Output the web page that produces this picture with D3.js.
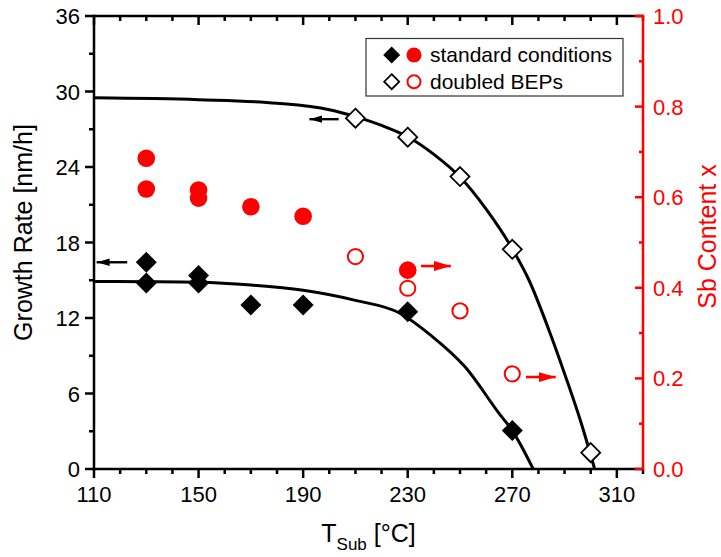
<!DOCTYPE html>
<html>
<head>
<meta charset="utf-8">
<script src="https://cdn.jsdelivr.net/npm/d3@7"></script>
<style>
  html, body { margin: 0; padding: 0; background: #fff; }
  svg { display: block; font-family: "Liberation Sans", Arial, sans-serif; }
</style>
</head>
<body>
<svg id="chart" width="721" height="557"></svg>
<script>
// Growth rate (left axis, nm/h) and Sb content (right axis) versus substrate temperature

// standard conditions: growth rate
const stdT = [130, 130, 150, 150, 170, 190, 230, 270];
const stdRate = [16.43, 14.78, 15.37, 14.78, 13.04, 13.04, 12.5, 3.05];
// doubled BEPs: growth rate
const dblT = [210, 230, 250, 270, 300];
const dblRate = [27.88, 26.37, 23.24, 17.46, 1.3];
// standard conditions: Sb content
const stdSbT = [130, 130, 150, 150, 170, 190, 230];
const stdSb = [0.686, 0.618, 0.616, 0.598, 0.579, 0.558, 0.439];
// doubled BEPs: Sb content
const dblSbT = [210, 230, 250, 270];
const dblSb = [0.469, 0.399, 0.349, 0.21];

// fitted growth-rate curves
const fitStdT = [110, 130, 150, 170, 190, 210, 227, 239, 252, 265, 270, 278];
const fitStdRate = [14.9, 14.88, 14.84, 14.62, 14.2, 13.4, 12.38, 10.6, 8.1, 4.4, 3.05, 0];
const fitDblT = [110, 150, 180, 200, 210, 220, 230, 240, 250, 260, 270, 276.4, 284, 290.4, 296.8, 301.5];
const fitDblRate = [29.5, 29.35, 29.07, 28.55, 28.0, 27.3, 26.4, 25.0, 23.2, 20.65, 17.5, 15.0, 11.05, 7.34, 3.36, 0];

// axis ticks
const xMajor = [110, 150, 190, 230, 270, 310];
const xMinor = [120, 130, 140, 160, 170, 180, 200, 210, 220, 240, 250, 260, 280, 290, 300, 320];
const yMajor = [0, 6, 12, 18, 24, 30, 36];
const yMinor = [3, 9, 15, 21, 27, 33];
const rMajor = [0, 0.2, 0.4, 0.6, 0.8, 1.0];
const rMinor = [0.1, 0.3, 0.5, 0.7, 0.9];

// direction arrows: [x1, x2, y] in data units, head at x2
const rateArrows = [[122.7, 111.0, 16.43], [203.6, 192.4, 27.8]];
const sbArrows = [[235.1, 246.5, 0.448], [275.2, 286.6, 0.203]];

const legendLabels = ["standard conditions", "doubled BEPs"];

const RED = "#ff0000";
const L = 94, R = 643, T = 16, B = 469;

const svg = d3.select("#chart");
const x = d3.scaleLinear().domain([110, 320]).range([L, R]);
const y = d3.scaleLinear().domain([0, 36]).range([B, T]);
const yr = d3.scaleLinear().domain([0, 1]).range([B, T]);

const defs = svg.append("defs");
defs.append("clipPath").attr("id", "plot-clip")
  .append("rect").attr("x", L).attr("y", T).attr("width", R - L).attr("height", B - T);
function arrowMarker(id, color, len, half) {
  defs.append("marker").attr("id", id)
    .attr("viewBox", `0 ${-half} ${len} ${2 * half}`)
    .attr("refX", len).attr("refY", 0)
    .attr("markerWidth", len).attr("markerHeight", 2 * half)
    .attr("markerUnits", "userSpaceOnUse")
    .attr("orient", "auto")
    .append("path").attr("d", `M0,${-half}L${len},0L0,${half}Z`).attr("fill", color);
}
arrowMarker("head-black", "#000", 13, 3.8);
arrowMarker("head-red", RED, 17, 5);

// fitted curves
const line = d3.line().x(d => x(d[0])).y(d => y(d[1])).curve(d3.curveMonotoneX);
const curves = svg.append("g").attr("clip-path", "url(#plot-clip)");
curves.append("path").datum(d3.zip(fitStdT, fitStdRate)).attr("d", line)
  .attr("fill", "none").attr("stroke", "#000").attr("stroke-width", 3);
curves.append("path").datum(d3.zip(fitDblT, fitDblRate)).attr("d", line)
  .attr("fill", "none").attr("stroke", "#000").attr("stroke-width", 3);

// arrows
svg.append("g").selectAll("line").data(rateArrows).join("line")
  .attr("x1", d => x(d[0])).attr("x2", d => x(d[1]))
  .attr("y1", d => y(d[2])).attr("y2", d => y(d[2]))
  .attr("stroke", "#000").attr("stroke-width", 2.4).attr("marker-end", "url(#head-black)");
svg.append("g").selectAll("line").data(sbArrows).join("line")
  .attr("x1", d => x(d[0])).attr("x2", d => x(d[1]))
  .attr("y1", d => yr(d[2])).attr("y2", d => yr(d[2]))
  .attr("stroke", RED).attr("stroke-width", 2.6).attr("marker-end", "url(#head-red)");

// markers
const diamondPath = s => `M0,${-s}L${s},0L0,${s}L${-s},0Z`;
svg.append("g").selectAll("circle.sb").data(d3.zip(stdSbT, stdSb)).join("circle")
  .attr("cx", d => x(d[0])).attr("cy", d => yr(d[1])).attr("r", 8.8).attr("fill", RED);
svg.append("g").selectAll("circle").data(d3.zip(dblSbT, dblSb)).join("circle")
  .attr("cx", d => x(d[0])).attr("cy", d => yr(d[1])).attr("r", 7.6)
  .attr("fill", "none").attr("stroke", RED).attr("stroke-width", 2);
svg.append("g").selectAll("path").data(d3.zip(stdT, stdRate)).join("path")
  .attr("transform", d => `translate(${x(d[0])},${y(d[1])})`)
  .attr("d", diamondPath(10.5)).attr("fill", "#000");
svg.append("g").selectAll("path").data(d3.zip(dblT, dblRate)).join("path")
  .attr("transform", d => `translate(${x(d[0])},${y(d[1])})`)
  .attr("d", diamondPath(9.5)).attr("fill", "#fff").attr("stroke", "#000").attr("stroke-width", 1.8);

// axes
const ax = svg.append("g");
const SW = 2.5;
function tick(g, x1, y1, x2, y2, color) {
  g.append("line").attr("x1", x1).attr("y1", y1).attr("x2", x2).attr("y2", y2)
    .attr("stroke", color).attr("stroke-width", SW);
}
// bottom & top
ax.append("line").attr("x1", L).attr("x2", R).attr("y1", B).attr("y2", B).attr("stroke", "#000").attr("stroke-width", SW);
ax.append("line").attr("x1", L).attr("x2", R).attr("y1", T).attr("y2", T).attr("stroke", "#000").attr("stroke-width", SW);
xMajor.forEach(v => { tick(ax, x(v), B, x(v), B + 9, "#000"); tick(ax, x(v), T, x(v), T + 9, "#000"); });
xMinor.forEach(v => { tick(ax, x(v), B, x(v), B + 5, "#000"); tick(ax, x(v), T, x(v), T + 5, "#000"); });
ax.selectAll("text.xl").data(xMajor).join("text")
  .attr("x", d => x(d)).attr("y", B + 33).attr("text-anchor", "middle")
  .attr("font-size", 22).attr("fill", "#000").text(d => d);
// left
ax.append("line").attr("x1", L).attr("x2", L).attr("y1", T - 1.25).attr("y2", B + 1.25).attr("stroke", "#000").attr("stroke-width", SW);
yMajor.forEach(v => tick(ax, L - 9, y(v), L, y(v), "#000"));
yMinor.forEach(v => tick(ax, L - 5, y(v), L, y(v), "#000"));
ax.selectAll("text.yl").data(yMajor).join("text")
  .attr("x", L - 14).attr("y", d => y(d) + 8).attr("text-anchor", "end")
  .attr("font-size", 22).attr("fill", "#000").text(d => d);
// right (red)
ax.append("line").attr("x1", R).attr("x2", R).attr("y1", T - 1.25).attr("y2", B + 1.25).attr("stroke", RED).attr("stroke-width", SW);
rMajor.forEach(v => tick(ax, R - 8, yr(v), R, yr(v), RED));
rMinor.forEach(v => tick(ax, R - 4, yr(v), R, yr(v), RED));
ax.selectAll("text.rl").data(rMajor).join("text")
  .attr("x", R + 10).attr("y", d => yr(d) + 8).attr("text-anchor", "start")
  .attr("font-size", 22).attr("fill", RED).text(d => d3.format(".1f")(d));

// axis titles
svg.append("text").attr("transform", `translate(32,${(T + B) / 2 - 10}) rotate(-90)`)
  .attr("text-anchor", "middle").attr("font-size", 25).attr("fill", "#000")
  .text("Growth Rate [nm/h]");
svg.append("text").attr("transform", `translate(716,${(T + B) / 2 - 6}) rotate(-90)`)
  .attr("text-anchor", "middle").attr("font-size", 25).attr("fill", RED)
  .text("Sb Content x");
const xt = svg.append("text").attr("x", (L + R) / 2).attr("y", 542)
  .attr("text-anchor", "middle").attr("font-size", 25).attr("fill", "#000");
xt.append("tspan").text("T");
xt.append("tspan").attr("font-size", 17).attr("dy", 8).text("Sub");
xt.append("tspan").attr("dy", -8).text(" [°C]");

// legend
const lg = svg.append("g");
lg.append("rect").attr("x", 366).attr("y", 38.5).attr("width", 257).attr("height", 57.5)
  .attr("fill", "#fff").attr("stroke", "#333").attr("stroke-width", 1.2);
const rowsY = [55, 81.7];
lg.append("path").attr("transform", `translate(391.7,${rowsY[0]})`).attr("d", diamondPath(8.5)).attr("fill", "#000");
lg.append("circle").attr("cx", 414).attr("cy", rowsY[0]).attr("r", 7.5).attr("fill", RED);
lg.append("path").attr("transform", `translate(391.7,${rowsY[1]})`).attr("d", diamondPath(7.5))
  .attr("fill", "#fff").attr("stroke", "#000").attr("stroke-width", 1.8);
lg.append("circle").attr("cx", 414).attr("cy", rowsY[1]).attr("r", 6.5)
  .attr("fill", "none").attr("stroke", RED).attr("stroke-width", 2);
lg.selectAll("text").data(legendLabels).join("text")
  .attr("x", 430).attr("y", (d, i) => rowsY[i] + 7)
  .attr("font-size", 21).attr("fill", "#000").text(d => d);
</script>
</body>
</html>
